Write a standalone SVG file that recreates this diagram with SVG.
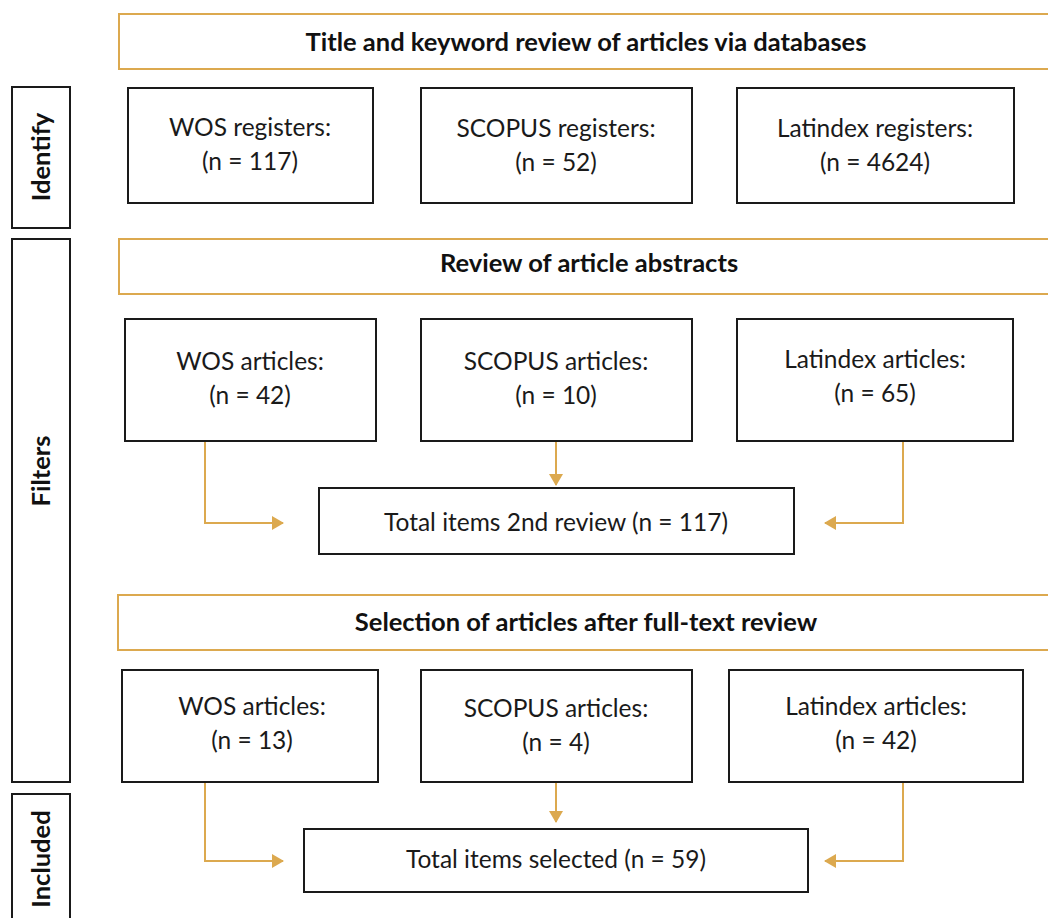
<svg xmlns="http://www.w3.org/2000/svg" width="1048" height="918" viewBox="0 0 1048 918">
<defs>
<style>
.box{fill:#fff;stroke:#1a1a1a;stroke-width:2}
.bar{fill:#fff;stroke:#DCA94F;stroke-width:2}
.con{fill:none;stroke:#DCA94F;stroke-width:2}
.t{font-family:Lato,"Liberation Sans",sans-serif;font-size:24.5px;fill:#1a1a1a;text-anchor:middle}
.h{font-family:Lato,"Liberation Sans",sans-serif;font-size:25.5px;font-weight:bold;fill:#111;text-anchor:middle}
</style>
<marker id="ah" markerUnits="userSpaceOnUse" markerWidth="12" markerHeight="14" refX="11" refY="7" orient="auto">
<path d="M0,0 L12,7 L0,14 z" fill="#DCA94F"/>
</marker>
</defs>
<rect width="1048" height="918" fill="#fff"/>

<g id="stage-identify"><rect class="box" x="12" y="87" width="58" height="141"/><text class="h" transform="translate(50,157) rotate(-90)">Identify</text></g>
<g id="stage-filters"><rect class="box" x="12" y="239" width="58" height="543"/><text class="h" transform="translate(50,471) rotate(-90)">Filters</text></g>
<g id="stage-included"><rect class="box" x="12" y="794" width="58" height="140"/><text class="h" transform="translate(50,859) rotate(-90)">Included</text></g>

<g id="bar1"><rect class="bar" x="119" y="14" width="960" height="55"/><text class="h" x="586" y="51">Title and keyword review of articles via databases</text></g>
<g id="bar2"><rect class="bar" x="119" y="239" width="960" height="55"/><text class="h" x="589" y="272">Review of article abstracts</text></g>
<g id="bar3"><rect class="bar" x="118" y="595" width="960" height="55"/><text class="h" x="586" y="631">Selection of articles after full-text review</text></g>

<g id="wos-reg"><rect class="box" x="128" y="88" width="245" height="115"/><text class="t" x="250" y="136">WOS registers:</text><text class="t" x="250" y="170">(n = 117)</text></g>
<g id="scopus-reg"><rect class="box" x="421" y="88" width="271" height="115"/><text class="t" x="556" y="137">SCOPUS registers:</text><text class="t" x="556" y="171">(n = 52)</text></g>
<g id="latindex-reg"><rect class="box" x="737" y="88" width="277" height="115"/><text class="t" x="875" y="137">Latindex registers:</text><text class="t" x="875" y="171">(n = 4624)</text></g>

<g id="wos-art1"><rect class="box" x="125" y="319" width="251" height="122"/><text class="t" x="250" y="370">WOS articles:</text><text class="t" x="250" y="404">(n = 42)</text></g>
<g id="scopus-art1"><rect class="box" x="421" y="319" width="271" height="122"/><text class="t" x="556" y="370">SCOPUS articles:</text><text class="t" x="556" y="404">(n = 10)</text></g>
<g id="latindex-art1"><rect class="box" x="737" y="319" width="276" height="122"/><text class="t" x="875" y="368">Latindex articles:</text><text class="t" x="875" y="402">(n = 65)</text></g>

<g id="total2"><rect class="box" x="319" y="488" width="475" height="66"/><text class="t" x="556" y="531">Total items 2nd review (n = 117)</text></g>

<g id="wos-art2"><rect class="box" x="122" y="670" width="256" height="112"/><text class="t" x="252" y="715">WOS articles:</text><text class="t" x="252" y="749">(n = 13)</text></g>
<g id="scopus-art2"><rect class="box" x="421" y="670" width="271" height="112"/><text class="t" x="556" y="717">SCOPUS articles:</text><text class="t" x="556" y="751">(n = 4)</text></g>
<g id="latindex-art2"><rect class="box" x="729" y="670" width="294" height="112"/><text class="t" x="876" y="715">Latindex articles:</text><text class="t" x="876" y="749">(n = 42)</text></g>

<g id="total-selected"><rect class="box" x="304" y="829" width="504" height="63"/><text class="t" x="556" y="868">Total items selected (n = 59)</text></g>

<g id="connectors">
<path class="con" marker-end="url(#ah)" d="M205,442 V523 H283"/>
<path class="con" marker-end="url(#ah)" d="M556,442 V485"/>
<path class="con" marker-end="url(#ah)" d="M903,442 V523 H825"/>
<path class="con" marker-end="url(#ah)" d="M205,783 V861 H283"/>
<path class="con" marker-end="url(#ah)" d="M556,783 V822"/>
<path class="con" marker-end="url(#ah)" d="M903,783 V861 H825"/>
</g>
</svg>
